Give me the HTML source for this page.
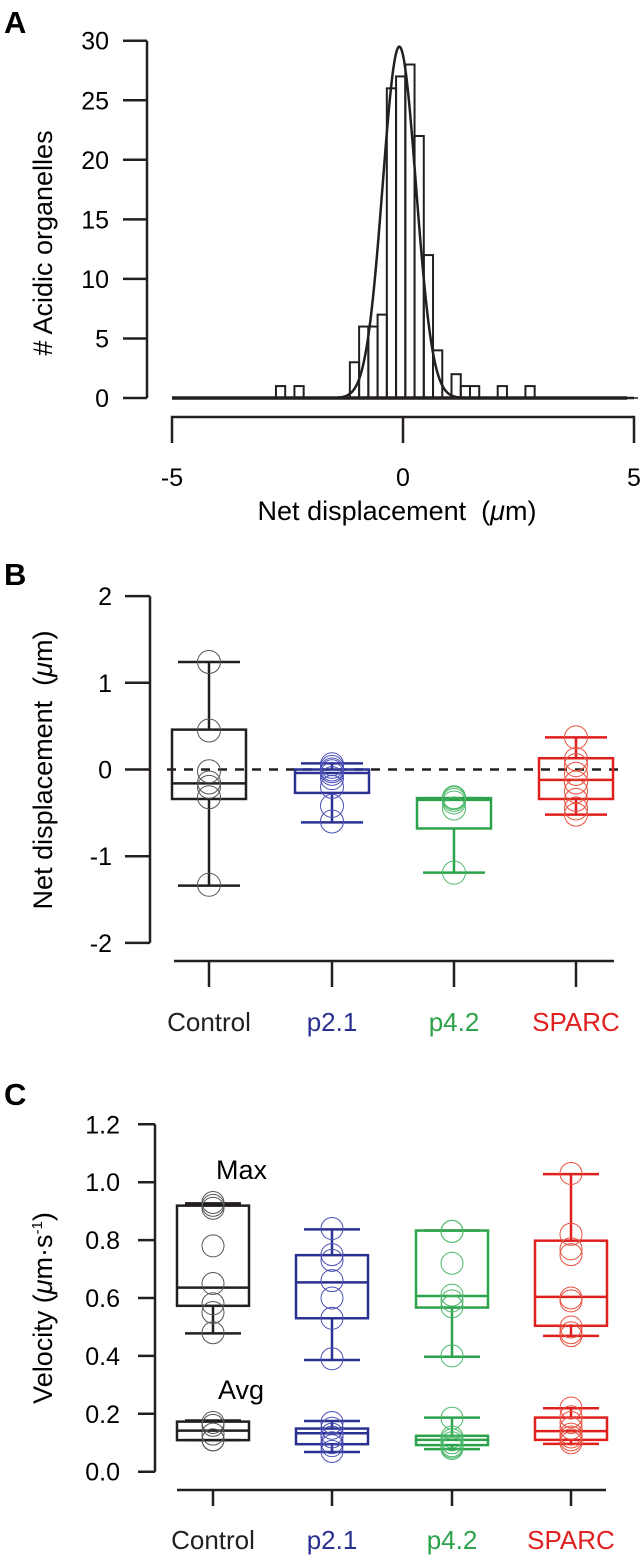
<!DOCTYPE html>
<html><head><meta charset="utf-8"><style>
html,body{margin:0;padding:0;background:#fff}
svg{display:block;font-family:"Liberation Sans",Arial,sans-serif}
</style></head><body>
<svg id="fig" width="642" height="1556" viewBox="0 0 642 1556" xmlns="http://www.w3.org/2000/svg"></svg>
<script>
// ---------- Panel A data ----------
const histCenters = [-2.65,-2.25,-1.05,-0.85,-0.65,-0.45,-0.25,-0.05,0.15,0.35,0.55,0.75,1.15,1.35,1.55,2.15,2.75];
const histCounts  = [1,1,3,6,6,7,26,27,28,22,12,4,2,1,1,1,1];
const histBinWidth = 0.2;
const fitAmp = [29.5];
const fitMean = [-0.08];
const fitSigma = [0.36];
const aYTicks = [0,5,10,15,20,25,30];
const aXTicks = [-5,0,5];
// ---------- Panel B data ----------
const categories = ["Control","p2.1","p4.2","SPARC"];
const bWhiskHi = [1.24,0.07,-0.33,0.37];
const bQ3      = [0.46,0.0,-0.33,0.13];
const bMedian  = [-0.16,-0.04,-0.35,-0.12];
const bQ1      = [-0.34,-0.27,-0.68,-0.34];
const bWhiskLo = [-1.34,-0.61,-1.19,-0.52];
const bPoints = [
  [1.24,0.45,-0.02,-0.15,-0.2,-0.32,-1.33],
  [0.06,0.03,0.0,-0.02,-0.05,-0.1,-0.2,-0.42,-0.6],
  [-0.32,-0.33,-0.35,-0.38,-0.45,-1.19],
  [0.37,0.12,0.05,-0.05,-0.15,-0.25,-0.35,-0.45,-0.52]
];
const bYTicks = [-2,-1,0,1,2];
// ---------- Panel C data ----------
const cMaxWhiskHi = [0.927,0.837,0.833,1.028];
const cMaxQ3      = [0.919,0.748,0.833,0.798];
const cMaxMedian  = [0.636,0.654,0.607,0.604];
const cMaxQ1      = [0.573,0.53,0.567,0.504];
const cMaxWhiskLo = [0.478,0.386,0.397,0.469];
const cMaxPoints = [
  [0.93,0.92,0.91,0.78,0.65,0.58,0.55,0.48],
  [0.84,0.75,0.73,0.66,0.6,0.53,0.39],
  [0.83,0.83,0.72,0.61,0.59,0.57,0.4],
  [1.03,0.82,0.77,0.75,0.6,0.59,0.5,0.48,0.47]
];
const cAvgWhiskHi = [0.177,0.175,0.187,0.219];
const cAvgQ3      = [0.173,0.149,0.124,0.187];
const cAvgMedian  = [0.142,0.133,0.11,0.14];
const cAvgQ1      = [0.109,0.095,0.092,0.11];
const cAvgWhiskLo = [0.109,0.068,0.078,0.096];
const cAvgPoints = [
  [0.17,0.16,0.13,0.11,0.11],
  [0.17,0.15,0.13,0.12,0.1,0.09,0.07],
  [0.185,0.12,0.11,0.1,0.09,0.085,0.08],
  [0.22,0.19,0.17,0.15,0.13,0.12,0.11,0.1]
];
const cYTicks = [0.0,0.2,0.4,0.6,0.8,1.0,1.2];

const lineCols = ["#231f20","#2b3191","#2ca34a","#e0201f"];
const dotCols  = ["#555555","#4a50b5","#4cb86a","#e8503f"];

const NS="http://www.w3.org/2000/svg";
const svg=document.getElementById('fig');
function mk(tag,attrs,parent){const e=document.createElementNS(NS,tag);for(const k in attrs)e.setAttribute(k,attrs[k]);(parent||svg).appendChild(e);return e;}
function grp(name){const g=mk('g',{});return g;}
const AX="#231f20";
const TF=25, TT=27, CF=26;

// ===== Panel A =====
const ax=v=>403+v*46.2;
const ay=v=>398-v*(357.3/30);
let lbl=mk('text',{x:4,y:33,'font-size':31,'font-weight':'bold',fill:'#000'});lbl.textContent='A';

const gA=grp('histogram-panel');
let e=mk('path',{d:`M147 ${ay(30)} V${ay(0)}`,stroke:AX,'stroke-width':2.5,fill:'none'},gA);

aYTicks.forEach(t=>{
  let tk=mk('line',{x1:123,x2:147,y1:ay(t),y2:ay(t),stroke:AX,'stroke-width':2.5},gA);
  
  let tx=mk('text',{x:109,y:ay(t)+9,'font-size':TF,'text-anchor':'end',fill:'#000'},gA);tx.textContent=t;
  
});
e=mk('text',{transform:'translate(52,243) rotate(-90)','font-size':TT,'text-anchor':'middle',fill:'#000'},gA);e.textContent='# Acidic organelles';

e=mk('path',{d:`M${ax(-5)} 443 V417 H${ax(5)} V443 M${ax(0)} 417 V443`,stroke:AX,'stroke-width':2.5,fill:'none'},gA);

aXTicks.forEach(t=>{let tx=mk('text',{x:ax(t),y:486,'font-size':TF,'text-anchor':'middle',fill:'#000'},gA);tx.textContent=t;
  });
e=mk('text',{x:397,y:520,'font-size':TT,'text-anchor':'middle',fill:'#000'},gA);
e.innerHTML='Net displacement\u00a0 (<tspan font-style="italic">μ</tspan>m)';

histCenters.forEach((c,i)=>{
  const x0=ax(c-histBinWidth/2),x1=ax(c+histBinWidth/2);
  let b=mk('rect',{x:x0,y:ay(histCounts[i]),width:x1-x0,height:ay(0)-ay(histCounts[i]),fill:'none',stroke:AX,'stroke-width':2},gA);
  
});
e=mk('line',{x1:172,x2:627,y1:ay(0),y2:ay(0),stroke:AX,'stroke-width':3.5},gA);

e=mk('line',{x1:627,x2:638,y1:ay(0),y2:ay(0),stroke:AX,'stroke-width':1.5},gA);

let dpath='';for(let k=0;k<=800;k++){const v=-5+k*10/800;const y=fitAmp[0]*Math.exp(-0.5*Math.pow((v-fitMean[0])/fitSigma[0],2));dpath+=(k?'L':'M')+ax(v).toFixed(2)+' '+ay(y).toFixed(2);}
e=mk('path',{d:dpath,fill:'none',stroke:AX,'stroke-width':2.5},gA);


// ===== box helper =====
function drawBox(g,cx,yf,hi,q3,med,q1,lo,pts,col,dcol,bw,cw,r,name){
  const sub=mk('g',{},g);
  let w=mk('path',{d:`M${cx} ${yf(hi)} V${yf(q3)} M${cx} ${yf(q1)} V${yf(lo)} M${cx-cw/2} ${yf(hi)} H${cx+cw/2} M${cx-cw/2} ${yf(lo)} H${cx+cw/2}`,stroke:col,'stroke-width':2.5,fill:'none'},sub);
  
  let b=mk('rect',{x:cx-bw/2,y:yf(q3),width:bw,height:Math.max(0.5,yf(q1)-yf(q3)),fill:'none',stroke:col,'stroke-width':2.5},sub);
  
  let m=mk('line',{x1:cx-bw/2,x2:cx+bw/2,y1:yf(med),y2:yf(med),stroke:col,'stroke-width':2.5},sub);
  
  pts.forEach(p=>{let c=mk('circle',{cx:cx,cy:yf(p),r:r,fill:'none',stroke:dcol,'stroke-width':1},sub);
    });
}

// ===== Panel B =====
const by=v=>769.5-v*86.7;
const bxPos=[209,332,454,576];
lbl=mk('text',{x:4,y:585,'font-size':31,'font-weight':'bold',fill:'#000'});lbl.textContent='B';

const gB=grp('displacement-boxplot-panel');
e=mk('path',{d:`M150 ${by(2)} V${by(-2)}`,stroke:AX,'stroke-width':2.5},gB);

bYTicks.forEach(t=>{
  let tk=mk('line',{x1:125,x2:150,y1:by(t),y2:by(t),stroke:AX,'stroke-width':2.5},gB);
  
  let tx=mk('text',{x:112,y:by(t)+9,'font-size':TF,'text-anchor':'end',fill:'#000'},gB);tx.textContent=t;
  
});
e=mk('text',{transform:'translate(52,770) rotate(-90)','font-size':TT,'text-anchor':'middle',fill:'#000'},gB);
e.innerHTML='Net displacement\u00a0 (<tspan font-style="italic">μ</tspan>m)';

e=mk('line',{x1:167,x2:626,y1:by(0),y2:by(0),stroke:AX,'stroke-width':2.5,'stroke-dasharray':'9 8'},gB);

e=mk('line',{x1:174,x2:614,y1:961,y2:961,stroke:AX,'stroke-width':2.5},gB);

categories.forEach((c,i)=>{
  let tk=mk('line',{x1:bxPos[i],x2:bxPos[i],y1:961,y2:987,stroke:AX,'stroke-width':2.5},gB);
  
  let tx=mk('text',{x:bxPos[i],y:1031,'font-size':CF,'text-anchor':'middle',fill:lineCols[i]},gB);tx.textContent=c;
  
  drawBox(gB,bxPos[i],by,bWhiskHi[i],bQ3[i],bMedian[i],bQ1[i],bWhiskLo[i],bPoints[i],lineCols[i],dotCols[i],74,62,11.5,'b-box-'+c.toLowerCase());
});

// ===== Panel C =====
const cy=v=>1471.7-v*289.5;
const cxPos=[213,332,452,571];
lbl=mk('text',{x:4,y:1105,'font-size':31,'font-weight':'bold',fill:'#000'});lbl.textContent='C';

const gC=grp('velocity-boxplot-panel');
e=mk('path',{d:`M155 ${cy(1.2)} V${cy(0)}`,stroke:AX,'stroke-width':2.5},gC);

cYTicks.forEach(t=>{
  let tk=mk('line',{x1:138,x2:155,y1:cy(t),y2:cy(t),stroke:AX,'stroke-width':2.5},gC);
  
  let tx=mk('text',{x:120,y:cy(t)+9,'font-size':TF,'text-anchor':'end',fill:'#000'},gC);tx.textContent=t.toFixed(1);
  
});
e=mk('text',{transform:'translate(52,1308) rotate(-90)','font-size':TT,'text-anchor':'middle',fill:'#000'},gC);
e.innerHTML='Velocity (<tspan font-style="italic">μ</tspan>m·s<tspan dy="-10" font-size="15">-1</tspan><tspan dy="10">)</tspan>';

e=mk('line',{x1:177,x2:606,y1:1490,y2:1490,stroke:AX,'stroke-width':2.5},gC);

e=mk('text',{x:216,y:1179,'font-size':TT,fill:'#000'},gC);e.textContent='Max';

e=mk('text',{x:218,y:1399,'font-size':TT,fill:'#000'},gC);e.textContent='Avg';

categories.forEach((c,i)=>{
  let tk=mk('line',{x1:cxPos[i],x2:cxPos[i],y1:1490,y2:1506,stroke:AX,'stroke-width':2.5},gC);
  
  let tx=mk('text',{x:cxPos[i],y:1549,'font-size':CF,'text-anchor':'middle',fill:lineCols[i]},gC);tx.textContent=c;
  
  drawBox(gC,cxPos[i],cy,cMaxWhiskHi[i],cMaxQ3[i],cMaxMedian[i],cMaxQ1[i],cMaxWhiskLo[i],cMaxPoints[i],lineCols[i],dotCols[i],72,56,11,'c-max-box-'+c.toLowerCase());
  drawBox(gC,cxPos[i],cy,cAvgWhiskHi[i],cAvgQ3[i],cAvgMedian[i],cAvgQ1[i],cAvgWhiskLo[i],cAvgPoints[i],lineCols[i],dotCols[i],72,56,11,'c-avg-box-'+c.toLowerCase());
});
</script>
</body></html>
